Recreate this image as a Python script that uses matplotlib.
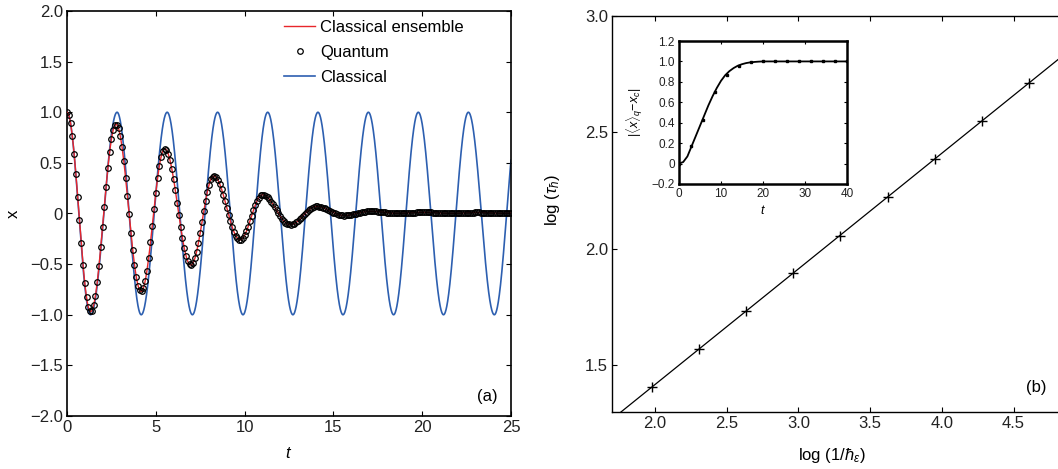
import numpy as np
import matplotlib
matplotlib.use("Agg")
import matplotlib.pyplot as plt

plt.rcParams['font.family'] = ['Liberation Sans', 'DejaVu Sans']
plt.rcParams['mathtext.fontset'] = 'custom'
plt.rcParams['mathtext.rm'] = 'Liberation Sans'
plt.rcParams['mathtext.it'] = 'Liberation Sans:italic'
plt.rcParams['mathtext.sf'] = 'Liberation Sans'

# ---------------- data ----------------
# Panel (a): extrema (times, values) of the oscillations
classical_ext_t = [0.0, 1.33, 2.82, 4.18, 5.64, 7.06, 8.48, 9.91, 11.30, 12.72,
                   14.13, 15.54, 16.97, 18.39, 19.78, 21.20, 22.60, 24.06, 25.45]
classical_ext_v = [1.0, -1.0, 1.0, -1.0, 1.0, -1.0, 1.0, -1.0, 1.0, -1.0,
                   1.0, -1.0, 1.0, -1.0, 1.0, -1.0, 1.0, -1.0, 1.0]

quantum_ext_t = [0.0, 1.33, 2.76, 4.17, 5.50, 6.97, 8.26, 9.74, 11.00, 12.57,
                 14.05, 15.60, 17.10, 18.60, 20.10, 21.60, 23.10, 24.60, 25.10]
quantum_ext_v = [1.0, -0.97, 0.88, -0.77, 0.64, -0.51, 0.37, -0.26, 0.185, -0.11,
                 0.07, -0.02, 0.022, 0.003, 0.012, 0.002, 0.010, 0.003, 0.005]

quantum_dt = 0.1          # sampling step of the quantum markers
t_max_a = 25.0

# Panel (b): scaling data
log_inv_hbar = [1.977, 2.306, 2.636, 2.963, 3.293, 3.627, 3.953, 4.278, 4.604]
log_tau = [1.409, 1.571, 1.732, 1.896, 2.056, 2.225, 2.388, 2.551, 2.712]

# Inset: |<x>_q - x_c| vs t
inset_curve_t = [0, 1, 2, 3, 4, 5, 6, 7, 8, 9, 10, 11, 12, 13, 14, 15, 16, 17, 18, 19, 20, 40]
inset_curve_v = [0.0, 0.015, 0.07, 0.17, 0.27, 0.37, 0.47, 0.57, 0.66, 0.74, 0.81, 0.865,
                 0.905, 0.935, 0.958, 0.973, 0.984, 0.991, 0.995, 0.998, 1.0, 1.0]
inset_dots_t = [0, 2.86, 5.71, 8.57, 11.43, 14.29, 17.14, 20.0, 22.86, 25.71,
                28.57, 31.43, 34.29, 37.14, 40.0]
inset_dots_v = [0.0, 0.17, 0.43, 0.70, 0.87, 0.96, 0.99, 1.0, 1.0, 1.0,
                1.0, 1.0, 1.0, 1.0, 1.0]

a_xticks = [0, 5, 10, 15, 20, 25]
a_yticks = [-2.0, -1.5, -1.0, -0.5, 0, 0.5, 1.0, 1.5, 2.0]
a_yticklabels = ['\u22122.0', '\u22121.5', '\u22121.0', '\u22120.5', '0', '0.5', '1.0', '1.5', '2.0']
b_xticks = [2.0, 2.5, 3.0, 3.5, 4.0, 4.5]
b_yticks = [1.5, 2.0, 2.5, 3.0]
in_xticks = [0, 10, 20, 30, 40]
in_yticks = [-0.2, 0, 0.2, 0.4, 0.6, 0.8, 1.0, 1.2]
in_yticklabels = ['\u22120.2', '0', '0.2', '0.4', '0.6', '0.8', '1.0', '1.2']


def through_extrema(ext_t, ext_v, t):
    ext_t = np.asarray(ext_t, float)
    ext_v = np.asarray(ext_v, float)
    idx = np.clip(np.searchsorted(ext_t, t, side='right') - 1, 0, len(ext_t) - 2)
    t0, t1 = ext_t[idx], ext_t[idx + 1]
    v0, v1 = ext_v[idx], ext_v[idx + 1]
    s = np.clip((t - t0) / (t1 - t0), 0, 1)
    return v0 + (v1 - v0) * (1 - np.cos(np.pi * s)) / 2


W, H = 1058, 469
fig = plt.figure(figsize=(W / 100, H / 100), dpi=100)

def px_axes(l, t, r, b):
    return fig.add_axes([l / W, (H - b) / H, (r - l) / W, (b - t) / H])

# ---------------- panel (a) ----------------
axa = px_axes(67, 11, 511, 416)
t_line = np.linspace(0, t_max_a, 3000)
t_q = np.arange(0, t_max_a + 1e-9, quantum_dt)
blue = '#2d5fb0'
red = '#e8262b'
axa.plot(t_line, through_extrema(classical_ext_t, classical_ext_v, t_line),
         color=blue, lw=1.2, zorder=2)
l_ens, = axa.plot(t_line, through_extrema(quantum_ext_t, quantum_ext_v, t_line),
                  color=red, lw=1.0, zorder=3)
l_q, = axa.plot(t_q, through_extrema(quantum_ext_t, quantum_ext_v, t_q),
                ls='none', marker='o', ms=4.0, mfc='none', mec='black', mew=0.9, zorder=4)
l_c, = axa.plot([], [], color=blue, lw=1.2)
axa.set_xlim(0, 25)
axa.set_ylim(-2, 2)
axa.set_xticks(a_xticks)
axa.set_yticks(a_yticks)
axa.set_yticklabels(a_yticklabels)
axa.set_xlabel('$t$', fontsize=12)
axa.set_ylabel('x', fontsize=12)
axa.xaxis.set_label_coords(0.5, -0.075)
axa.yaxis.set_label_coords(-0.105, 0.5)
axa.text(0.946, 0.049, '(a)', transform=axa.transAxes, ha='center', va='center', fontsize=12)
leg = axa.legend([l_ens, l_q, l_c], ['Classical ensemble', 'Quantum', 'Classical'],
                 loc='upper left', bbox_to_anchor=(0.488, 0.979), frameon=False,
                 fontsize=12, handlelength=1.9, handletextpad=0.3, labelspacing=0.62,
                 borderpad=0, borderaxespad=0)

# ---------------- panel (b) ----------------
axb = px_axes(612, 16, 1071, 412)
slope, icpt = np.polyfit(log_inv_hbar, log_tau, 1)
xl = np.array([1.7, 4.9])
axb.plot(xl, slope * xl + icpt, color='black', lw=0.9)
axb.plot(log_inv_hbar, log_tau, ls='none', marker='+', ms=6.5, mew=1.0, color='black')
axb.set_xlim(1.7, 4.9)
axb.set_ylim(1.3, 3.0)
axb.set_xticks(b_xticks)
axb.set_yticks(b_yticks)
axb.set_xticklabels(['%.1f' % v for v in b_xticks])
axb.set_yticklabels(['%.1f' % v for v in b_yticks])
axb.set_xlabel(r'log (1/$\hbar_\varepsilon$)', fontsize=12)
axb.set_ylabel(r'log ($\tau_\hbar$)', fontsize=12)
axb.xaxis.set_label_coords(0.479, -0.085)
axb.yaxis.set_label_coords(-0.108, 0.535)
axb.text(0.924, 0.061, '(b)', transform=axb.transAxes, ha='center', va='center', fontsize=12)

# ---------------- inset ----------------
axi = px_axes(679, 41, 847, 184)
axi.plot(inset_curve_t, inset_curve_v, color='black', lw=1.3)
axi.plot(inset_dots_t, inset_dots_v, ls='none', marker='s', ms=2.0, color='black')
axi.set_xlim(0, 40)
axi.set_ylim(-0.2, 1.2)
axi.set_xticks(in_xticks)
axi.set_yticks(in_yticks)
axi.set_yticklabels(in_yticklabels)
axi.set_xlabel('$t$', fontsize=9, labelpad=0)
axi.set_ylabel(r'$|\langle x\rangle_q\!-\!x_c|$', fontsize=9)
axi.xaxis.set_label_coords(0.5, -0.14)
axi.yaxis.set_label_coords(-0.2, 0.5)

for ax, lw, fs, tl in ((axa, 1.2, 12, 3.8), (axb, 1.0, 12, 3.8), (axi, 1.8, 8.5, 2.5)):
    for s in ax.spines.values():
        s.set_linewidth(lw)
    ax.tick_params(direction='in', top=True, right=True, length=tl, width=0.8,
                   labelsize=fs, pad=3, colors='black', labelcolor='#222222')

fig.savefig('out.png', dpi=100)
